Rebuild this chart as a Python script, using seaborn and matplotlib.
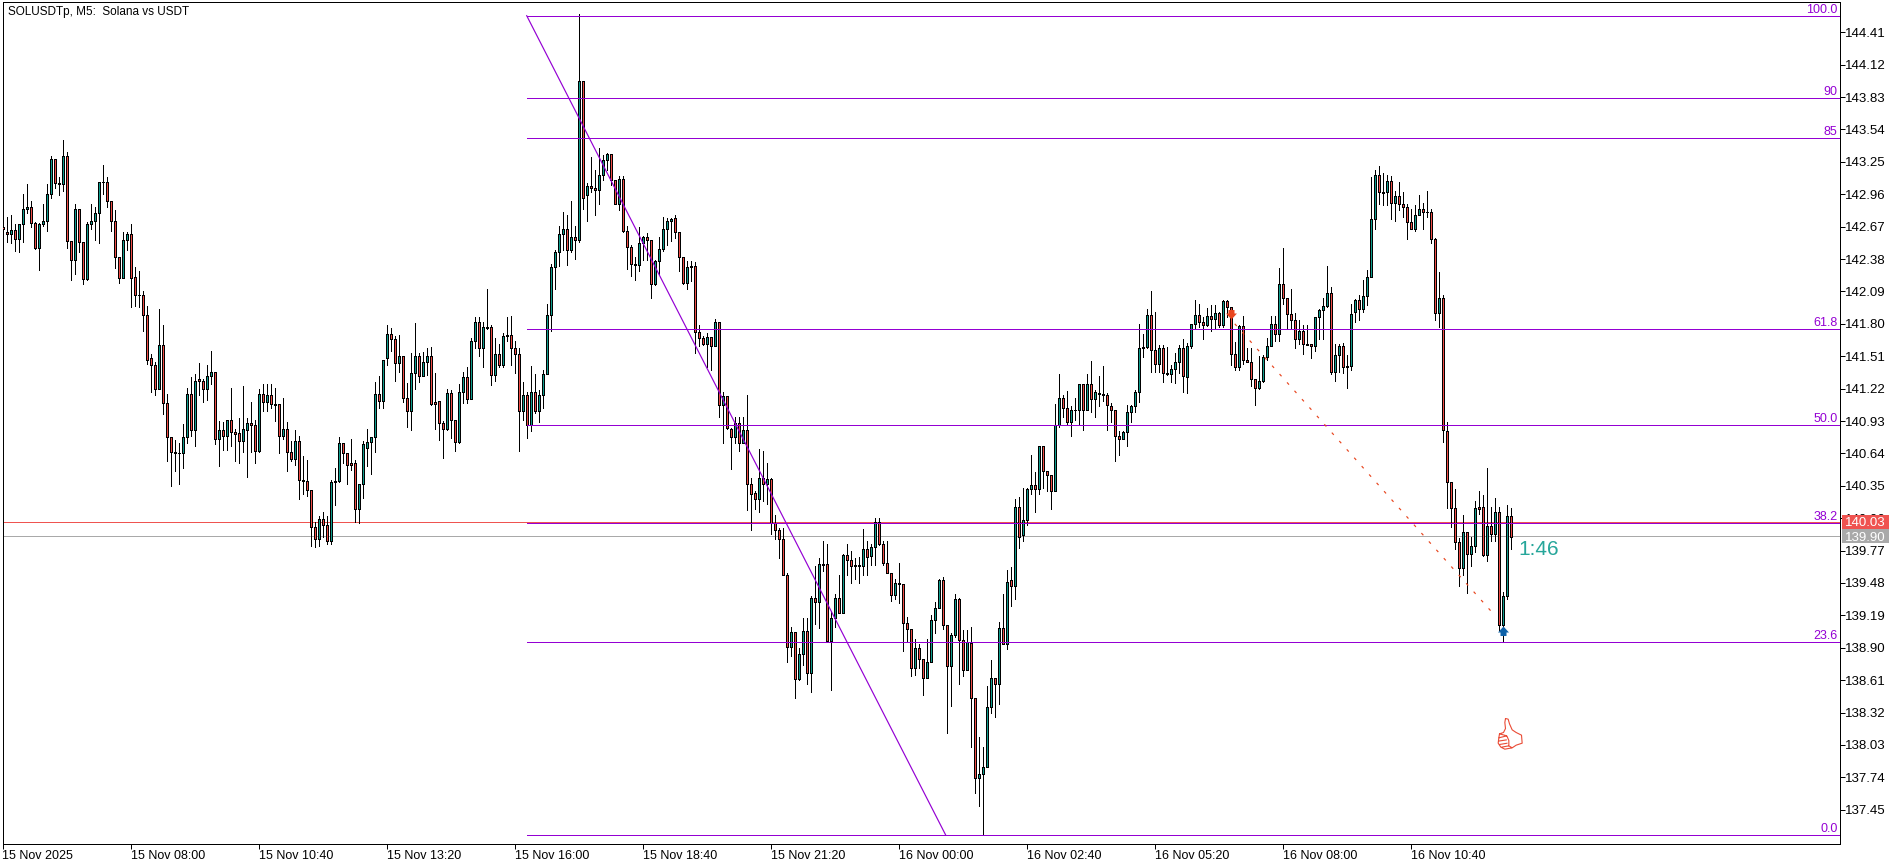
import numpy as np
import matplotlib
matplotlib.use("Agg")
import matplotlib.pyplot as plt
from matplotlib.path import Path
from matplotlib.patches import Rectangle
from matplotlib.transforms import blended_transform_factory
import seaborn as sns

opens = [
142.67,142.62,142.60,142.64,142.56,142.69,142.83,142.85,142.70,142.48,
142.69,142.72,142.96,143.28,143.06,143.05,143.30,142.54,142.37,142.83,
142.53,142.20,142.69,142.72,142.79,143.07,143.07,142.90,142.72,142.40,
142.21,142.55,142.60,142.22,142.06,142.06,141.88,141.49,141.43,141.22,
141.61,141.09,140.79,140.65,140.64,140.64,140.79,141.17,140.85,141.31,
141.29,141.22,141.33,141.37,140.77,140.85,140.80,140.94,140.83,140.82,
140.75,140.85,140.91,140.89,140.66,141.17,141.10,141.16,141.08,141.08,
140.80,140.86,140.65,140.59,140.75,140.40,140.39,140.31,139.98,139.87,
140.05,140.00,139.86,140.38,140.39,140.73,140.64,140.55,140.55,140.14,
140.37,140.69,140.74,140.79,141.17,141.11,141.49,141.71,141.66,141.45,
141.51,141.14,141.02,141.36,141.51,141.33,141.46,141.51,141.10,141.11,
140.91,140.86,141.18,140.94,140.74,141.19,141.32,141.13,141.65,141.82,
141.58,141.77,141.77,141.34,141.53,141.43,141.70,141.70,141.58,141.53,
141.02,141.16,140.89,141.19,141.02,141.16,141.35,141.88,142.31,142.44,
142.60,142.65,142.46,142.58,142.55,143.97,142.95,143.03,143.02,143.00,
143.13,143.27,143.32,143.09,142.87,143.10,142.63,142.49,142.34,142.33,
142.52,142.58,142.55,142.16,142.36,142.47,142.65,142.72,142.75,142.62,
142.40,142.17,142.32,142.32,141.73,141.67,141.62,141.68,141.60,141.82,
141.07,141.15,140.86,140.79,140.91,140.73,140.85,140.37,140.29,140.23,
140.42,140.37,140.41,140.02,139.95,139.87,139.55,138.91,139.04,138.62,
138.84,139.05,138.67,139.35,139.31,139.65,139.65,138.96,139.17,139.35,
139.21,139.73,139.69,139.64,139.64,139.63,139.78,139.72,139.80,140.03,
139.83,139.66,139.57,139.37,139.48,139.47,139.12,139.07,138.72,138.90,
138.80,138.63,138.77,139.15,139.26,139.51,139.10,138.74,139.01,139.34,
138.97,138.70,138.94,138.45,137.73,137.77,137.83,138.37,138.63,138.58,
139.08,138.93,139.51,139.45,140.16,139.91,140.04,140.32,140.36,140.32,
140.71,140.48,140.45,140.30,140.89,141.14,141.05,140.92,141.03,141.03,
141.26,141.03,141.26,141.13,141.18,141.17,141.16,141.06,141.03,140.80,
140.77,140.83,141.01,141.06,141.19,141.59,141.59,141.88,141.57,141.44,
141.58,141.36,141.35,141.40,141.46,141.58,141.32,141.60,141.80,141.88,
141.82,141.79,141.87,141.84,141.90,141.79,142.00,141.95,141.53,141.41,
141.78,141.48,141.46,141.31,141.23,141.29,141.50,141.60,141.80,141.71,
142.16,142.03,141.89,141.83,141.66,141.74,141.62,141.62,141.60,141.86,
141.92,141.96,142.08,141.37,141.52,141.60,141.42,141.42,141.91,142.01,
141.93,142.05,142.22,142.74,143.13,142.98,142.98,143.08,142.88,142.94,
142.87,142.85,142.71,142.65,142.77,142.83,142.80,142.80,142.56,141.90,
142.03,140.84,140.38,140.15,139.85,139.61,139.94,139.74,139.81,140.16,
140.16,139.73,139.99,139.92,140.12,139.10,139.36,140.08]

closes = [
142.65,142.60,142.64,142.56,142.69,142.83,142.85,142.70,142.48,142.69,
142.72,142.96,143.28,143.06,143.05,143.30,142.54,142.37,142.83,142.53,
142.20,142.69,142.72,142.79,143.07,143.07,142.90,142.72,142.40,142.21,
142.55,142.60,142.21,142.06,142.06,141.88,141.48,141.43,141.22,141.61,
141.09,140.79,140.65,140.64,140.64,140.79,141.17,140.85,141.29,141.29,
141.22,141.33,141.37,140.77,140.85,140.80,140.94,140.83,140.81,140.75,
140.86,140.91,140.89,140.66,141.17,141.10,141.16,141.08,141.07,140.80,
140.86,140.65,140.59,140.75,140.40,140.39,140.31,139.98,139.87,140.05,
140.00,139.86,140.38,140.39,140.73,140.64,140.54,140.54,140.14,140.37,
140.72,140.74,140.79,141.17,141.11,141.48,141.71,141.66,141.45,141.51,
141.14,141.02,141.36,141.51,141.33,141.46,141.51,141.08,141.08,140.91,
140.86,141.18,140.94,140.74,141.19,141.32,141.13,141.65,141.82,141.58,
141.77,141.76,141.34,141.53,141.43,141.69,141.69,141.58,141.53,141.02,
141.16,140.89,141.19,141.02,141.16,141.35,141.88,142.31,142.44,142.60,
142.65,142.46,142.58,142.55,143.97,142.93,143.03,143.02,143.00,143.13,
143.27,143.32,143.09,142.87,143.10,142.63,142.49,142.34,142.33,142.52,
142.58,142.55,142.16,142.36,142.47,142.65,142.72,142.74,142.62,142.40,
142.17,142.31,142.31,141.73,141.67,141.62,141.68,141.60,141.82,141.07,
141.15,140.87,140.79,140.91,140.73,140.85,140.37,140.28,140.23,140.42,
140.37,140.41,140.02,139.95,139.87,139.55,138.91,139.04,138.62,138.84,
139.05,138.67,139.35,139.31,139.65,139.64,138.96,139.17,139.35,139.21,
139.73,139.69,139.63,139.63,139.63,139.78,139.71,139.80,140.03,139.83,
139.66,139.57,139.37,139.48,139.47,139.12,139.07,138.72,138.90,138.80,
138.63,138.77,139.15,139.26,139.51,139.10,138.74,139.01,139.34,138.97,
138.70,138.95,138.45,137.73,137.77,137.83,138.37,138.63,138.58,139.08,
138.93,139.49,139.45,140.16,139.89,140.04,140.32,140.36,140.32,140.71,
140.48,140.45,140.30,140.89,141.14,141.05,140.92,141.03,141.03,141.26,
141.03,141.26,141.13,141.19,141.17,141.16,141.07,141.03,140.80,140.77,
140.83,141.01,141.06,141.19,141.58,141.58,141.88,141.57,141.44,141.58,
141.36,141.35,141.40,141.46,141.58,141.33,141.60,141.80,141.88,141.82,
141.79,141.87,141.84,141.90,141.79,142.00,141.95,141.53,141.41,141.78,
141.48,141.46,141.31,141.23,141.29,141.50,141.60,141.80,141.71,142.16,
142.03,141.89,141.83,141.66,141.74,141.62,141.61,141.60,141.86,141.92,
141.96,142.08,141.37,141.52,141.60,141.41,141.41,141.89,142.01,141.93,
142.05,142.22,142.74,143.13,142.98,142.97,143.08,142.88,142.94,142.87,
142.85,142.71,142.65,142.77,142.83,142.80,142.80,142.56,141.90,142.03,
140.85,140.38,140.15,139.85,139.61,139.94,139.74,139.81,140.15,140.14,
139.73,139.99,139.92,140.12,139.10,139.36,140.08,139.89]

highs = [
142.69,142.76,142.77,142.69,142.69,142.96,143.05,142.90,142.71,142.70,
142.87,143.05,143.30,143.28,143.11,143.45,143.34,142.54,142.87,142.83,
142.53,142.71,142.87,142.85,143.07,143.22,143.11,142.90,142.82,142.40,
142.62,142.62,142.69,142.31,142.27,142.09,141.96,141.53,141.46,141.93,
141.79,141.17,140.79,140.76,140.73,140.90,141.23,141.32,141.35,141.45,
141.31,141.43,141.56,141.37,140.93,140.92,140.94,141.23,140.86,140.96,
141.24,140.96,141.10,140.94,141.22,141.26,141.26,141.26,141.23,141.08,
141.14,140.92,140.75,140.85,140.80,140.62,140.58,140.31,140.03,140.08,
140.12,140.08,140.40,140.51,140.79,140.73,140.64,140.77,140.58,140.37,
140.75,140.86,140.79,141.28,141.33,141.48,141.79,141.76,141.69,141.70,
141.51,141.27,141.54,141.81,141.54,141.55,141.58,141.59,141.36,141.11,
140.93,141.22,141.21,140.94,141.26,141.37,141.41,141.67,141.86,141.86,
141.82,142.11,141.79,141.67,141.62,141.72,141.86,141.87,141.65,141.58,
141.28,141.19,141.42,141.35,141.21,141.39,141.98,142.34,142.46,142.68,
142.80,142.77,142.90,142.68,144.57,143.97,143.06,143.29,143.18,143.37,
143.31,143.33,143.32,143.09,143.12,143.12,142.68,142.51,142.40,142.67,
142.59,142.61,142.55,142.37,142.58,142.76,142.75,142.75,142.77,142.62,
142.40,142.36,142.36,142.35,141.79,141.69,141.72,141.68,141.84,141.82,
141.19,141.15,140.87,140.97,140.97,140.97,141.16,140.42,140.30,140.68,
140.66,140.55,140.42,140.09,139.97,139.97,139.57,139.09,139.04,138.90,
139.17,139.17,139.36,139.63,139.70,139.86,139.83,139.23,139.38,139.55,
139.74,139.83,139.77,139.70,139.71,139.96,139.86,139.83,140.06,140.06,
139.86,139.86,139.57,139.52,139.66,139.47,139.18,139.07,138.98,138.93,
138.80,138.98,139.19,139.31,139.52,139.53,139.10,139.03,139.38,139.35,
139.06,139.06,139.09,138.45,138.10,138.01,138.56,138.79,138.63,139.13,
139.38,139.60,139.62,140.23,140.25,140.33,140.33,140.63,140.47,140.71,
140.71,140.48,140.45,141.08,141.35,141.16,141.20,141.06,141.14,141.26,
141.26,141.35,141.47,141.21,141.33,141.42,141.18,141.09,141.03,140.84,
140.84,141.07,141.07,141.21,141.80,141.71,141.93,142.09,141.91,141.61,
141.61,141.59,141.43,141.54,141.61,141.66,141.63,141.80,142.01,141.98,
141.86,141.94,141.97,141.97,141.91,142.01,142.01,141.95,141.64,141.79,
141.87,141.58,141.58,141.31,141.51,141.52,141.67,141.87,141.87,142.30,
142.48,142.03,142.11,141.90,141.83,141.79,141.79,141.62,141.86,141.93,
142.03,142.32,142.13,141.62,141.62,141.63,141.52,141.98,142.02,142.06,
142.19,142.28,143.11,143.18,143.21,143.15,143.13,143.12,142.99,143.07,
142.98,142.87,142.83,142.86,142.95,142.88,142.99,142.83,142.57,142.26,
142.06,140.92,140.38,140.32,139.88,140.09,139.94,139.89,140.21,140.30,
140.27,140.51,140.16,140.24,140.16,139.40,140.18,140.15]

lows = [
142.62,142.53,142.52,142.45,142.44,142.53,142.79,142.67,142.47,142.28,
142.68,142.63,142.93,143.02,142.95,142.99,142.48,142.19,142.25,142.44,
142.16,142.19,142.65,142.55,142.52,142.96,142.85,142.63,142.30,142.17,
142.21,142.46,141.95,141.96,141.95,141.74,141.44,141.19,141.16,141.22,
140.99,140.57,140.35,140.48,140.37,140.51,140.73,140.80,140.71,141.16,
141.10,141.12,141.26,140.72,140.53,140.67,140.67,140.71,140.57,140.55,
140.65,140.43,140.65,140.55,140.65,141.02,141.02,141.05,140.93,140.64,
140.77,140.48,140.57,140.54,140.23,140.28,140.26,139.81,139.80,139.81,
139.89,139.83,139.83,140.18,140.38,140.55,140.37,140.49,140.03,140.02,
140.24,140.53,140.46,140.65,141.05,141.05,141.43,141.56,141.29,141.37,
141.10,140.88,140.85,141.22,141.28,141.33,141.34,141.07,140.86,140.76,
140.60,140.85,140.78,140.66,140.73,141.09,141.09,141.13,141.58,141.51,
141.41,141.75,141.25,141.29,141.41,141.41,141.65,141.43,141.36,140.66,
140.94,140.78,140.84,141.00,140.92,141.05,141.35,141.74,142.11,142.32,
142.46,142.33,142.44,142.38,142.53,142.83,142.72,142.98,142.77,142.87,
143.09,143.18,143.04,142.87,142.82,142.62,142.29,142.23,142.19,142.27,
142.37,142.37,142.03,142.15,142.25,142.45,142.51,142.54,142.57,142.27,
142.16,142.11,142.18,141.54,141.60,141.61,141.41,141.39,141.60,140.97,
140.73,140.86,140.50,140.73,140.66,140.73,140.13,139.95,140.14,140.12,
140.21,140.19,139.92,139.87,139.70,139.55,138.77,138.83,138.45,138.61,
138.75,138.58,138.50,139.11,139.08,139.59,138.96,138.52,139.09,139.21,
139.21,139.55,139.48,139.52,139.48,139.55,139.55,139.64,139.64,139.82,
139.64,139.57,139.32,139.34,139.30,138.87,138.95,138.65,138.66,138.72,
138.48,138.63,138.77,139.03,139.26,139.07,138.14,138.38,139.00,138.58,
138.65,138.70,138.01,137.60,137.48,137.22,137.83,138.32,138.28,138.40,
138.93,138.89,139.27,139.34,139.79,139.86,140.00,140.28,140.12,140.28,
140.33,140.30,140.14,140.30,140.88,140.97,140.89,140.80,140.94,140.89,
140.85,141.03,141.01,140.97,141.06,141.11,140.85,140.92,140.57,140.63,
140.77,140.71,140.92,141.01,141.10,141.50,141.58,141.37,141.37,141.37,
141.28,141.34,141.28,141.27,141.36,141.19,141.18,141.58,141.75,141.77,
141.66,141.78,141.74,141.75,141.77,141.77,141.86,141.43,141.39,141.39,
141.44,141.46,141.24,141.07,141.22,141.28,141.48,141.60,141.65,141.65,
141.98,141.75,141.75,141.58,141.62,141.53,141.61,141.49,141.56,141.66,
141.66,141.95,141.35,141.29,141.37,141.36,141.23,141.39,141.82,141.83,
141.91,141.97,142.22,142.65,142.87,142.86,142.86,142.74,142.72,142.82,
142.76,142.56,142.65,142.63,142.77,142.65,142.76,142.52,141.83,141.77,
140.74,140.15,139.98,139.78,139.45,139.55,139.39,139.63,139.76,140.10,
139.72,139.68,139.86,139.86,139.06,138.95,139.34,139.78]

y_ticks = [144.41,144.12,143.83,143.54,143.25,142.96,142.67,142.38,142.09,141.80,
           141.51,141.22,140.93,140.64,140.35,140.06,139.77,139.48,139.19,138.90,
           138.61,138.32,138.03,137.74,137.45]
x_tick_labels = ["15 Nov 2025","15 Nov 08:00","15 Nov 10:40","15 Nov 13:20","15 Nov 16:00",
                 "15 Nov 18:40","15 Nov 21:20","16 Nov 00:00","16 Nov 02:40","16 Nov 05:20",
                 "16 Nov 08:00","16 Nov 10:40"]
fib_names = ["100.0","90","85","61.8","50.0","38.2","23.6","0.0"]
fib_prices = [144.56,143.82,143.46,141.75,140.89,140.02,138.95,137.22]
ask_price = 140.03
bid_price = 139.90

TEAL = "#0E9C8C"; RED = "#EF4B45"; VIOLET = "#9400D3"; DEAL = "#E8451E"; BLUE = "#0F62A8"

sns.set_theme(style="white")
plt.rcParams["font.family"] = ["Liberation Sans", "DejaVu Sans"]
PX = 0.72  # one pixel in points at 100 dpi

fig = plt.figure(figsize=(19.02, 8.67), dpi=100, facecolor="white")
W, H = 1902, 867
ax = fig.add_axes([2.5/W, 1-843.5/H, (1839.5-2.5)/W, (843.5-2)/H], facecolor="white")

idx = np.arange(len(opens))
o, c, hi, lo = map(np.array, (opens, closes, highs, lows))
ax.axhline(ask_price, color="#EF5350", lw=PX, zorder=1, antialiased=False)
ax.axhline(bid_price, color="#A9A9A9", lw=PX, zorder=1, antialiased=False)
ax.vlines(idx, lo, hi, color="black", lw=PX, zorder=2, antialiased=False)
ax.bar(idx, np.abs(c-o), bottom=np.minimum(o, c), width=0.5,
       color=[TEAL if b >= a else RED for a, b in zip(o, c)],
       edgecolor="black", linewidth=PX, zorder=3, antialiased=False)

# Fibonacci levels and the retracement trend line
for p, name in zip(fib_prices, fib_names):
    ax.hlines(p, 131, 459.5, color=VIOLET, lw=PX, zorder=4, antialiased=False)
    ax.annotate(name, xy=(1, p), xycoords=("axes fraction", "data"),
                xytext=(-2, 0), textcoords="offset pixels", ha="right", va="bottom",
                color=VIOLET, fontsize=9, zorder=6)
sns.lineplot(x=[131, 235.8], y=[fib_prices[0], fib_prices[-1]], color=VIOLET, lw=0.85,
             ax=ax, zorder=4, legend=False, errorbar=None)

# Deal line and its arrows
sns.lineplot(x=[308, 373], y=[141.80, 139.19], color=DEAL, lw=0.85, linestyle=(0, (2.5, 7)),
             ax=ax, zorder=5, legend=False, errorbar=None)
up_arrow = Path([(0, 5), (5.5, -1), (3, -1), (3, -4.5), (-3, -4.5), (-3, -1), (-5.5, -1), (0, 5)], closed=True)
down_arrow = Path([(0, -5), (5.5, 1), (3, 1), (3, 4.5), (-3, 4.5), (-3, 1), (-5.5, 1), (0, -5)], closed=True)
ax.plot([307], [141.89], marker=down_arrow, ms=7.9, color=DEAL, mew=0, zorder=7)
ax.plot([375], [139.05], marker=up_arrow, ms=7.9, color=BLUE, mew=0, zorder=7)

# Thumbs-up drawing (zoomed outline, y flipped, centred on the hand)
outline = [(30, 18), (38, 20), (42, 34), (50, 52), (62, 60), (78, 68), (80, 92), (62, 98), (50, 106),
           (28, 110), (16, 104), (8, 92), (10, 76), (12, 64), (24, 60), (30, 48), (28, 30), (30, 18)]
fingers = [[(10, 76), (34, 70)], [(8, 86), (34, 82)], [(12, 96), (36, 92)], [(18, 104), (40, 100)],
           [(34, 70), (40, 84), (40, 100), (50, 106)], [(12, 64), (34, 70)]]
verts, codes = [], []
for seg in [outline] + fingers:
    for j, (px, py) in enumerate(seg):
        verts.append(((px-45)/3, (60-py)/3))
        codes.append(Path.MOVETO if j == 0 else Path.LINETO)
thumb = Path(verts, codes)
ax.plot([376.9], [138.15], marker=thumb, ms=24.0, mfc="none", mec="#EA4B35", mew=0.8, zorder=7)

ax.text(379.0, 139.78, "1:46", color="#26A69A", fontsize=15, va="center", ha="left", zorder=7)

# Axes
ax.set_xlim(0, 459.15)
ax.set_ylim(137.148, 144.681)
ax.yaxis.tick_right()
ax.set_yticks(y_ticks)
ax.set_yticklabels([f"{v:.2f}" for v in y_ticks])
ax.set_xticks(np.arange(len(x_tick_labels))*32)
ax.set_xticklabels(x_tick_labels, ha="left")
ax.tick_params(axis="y", which="major", right=True, left=False, length=3.6, width=PX, pad=0.6,
               labelsize=9.5, colors="black")
ax.tick_params(axis="x", which="major", bottom=True, length=3.6, width=PX, pad=1.2,
               labelsize=9, colors="black")
for s in ax.spines.values():
    s.set_visible(True); s.set_color("black"); s.set_linewidth(PX)
ax.grid(False)

# Live price tags on the axis
tr = blended_transform_factory(ax.transAxes, ax.transData)
x0 = 1 + (1842-1839.5)/(1839.5-2.5)
wd = 47/(1839.5-2.5)
for p, col in ((ask_price, "#EF5350"), (bid_price, "#A9A9A9")):
    ax.add_patch(Rectangle((x0, p-0.0627), wd, 0.125, transform=tr, facecolor=col, edgecolor="none",
                           clip_on=False, zorder=10))
    ax.text(x0+wd/2, p, f"{p:.2f}", transform=tr, color="white", fontsize=9.5, ha="center",
            va="center_baseline", clip_on=False, zorder=11)

fig.text(8/W, 1-12/H, "SOLUSDTp, M5:  Solana vs USDT", fontsize=8.5, color="black", va="center", ha="left")

fig.savefig("out.png", dpi=100, facecolor="white")
